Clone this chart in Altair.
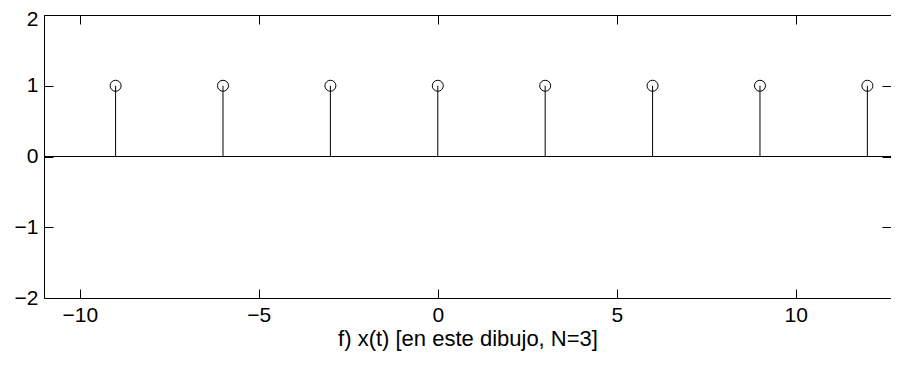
import altair as alt
import pandas as pd

# ---- data ----
T = [-9, -6, -3, 0, 3, 6, 9, 12]
X_VALUES = [1, 1, 1, 1, 1, 1, 1, 1]
X_TICKS = [-10, -5, 0, 5, 10]
Y_TICKS = [-2, -1, 0, 1, 2]
X_DOMAIN = [-11, 12.66]
Y_DOMAIN = [-2, 2]
TITLE = "f) x(t) [en este dibujo, N=3]"

W, H = 847, 283
FONT = "Liberation Sans"
FS_LABEL = 21
FS_TITLE = 22

df = pd.DataFrame({"t": T, "x": X_VALUES, "base": [0] * len(T)})
bl = pd.DataFrame({"xa": [X_DOMAIN[0]], "xb": [X_DOMAIN[1]], "y": [0]})

xs = alt.Scale(domain=X_DOMAIN, nice=False, zero=False)
ys = alt.Scale(domain=Y_DOMAIN, nice=False, zero=False)


def tick_axis(orient, offset, values):
    return alt.Axis(orient=orient, offset=offset, values=values, labels=False,
                    domain=False, ticks=True, tickSize=9, tickColor="black",
                    tickWidth=1, grid=False, title=None)


x_label_axis = alt.Axis(orient="bottom", values=X_TICKS, ticks=False, tickSize=0,
                        domain=False, grid=False, labelFont=FONT, labelFontSize=FS_LABEL,
                        labelColor="black", labelPadding=6, title=TITLE,
                        titleFont=FONT, titleFontSize=FS_TITLE, titleFontWeight="normal",
                        titleColor="black", titlePadding=3)
y_label_axis = alt.Axis(orient="left", values=Y_TICKS, ticks=False, tickSize=0,
                        domain=False, grid=False, labelFont=FONT, labelFontSize=FS_LABEL,
                        labelColor="black", labelPadding=6, title=None,
                        labelOffset={"condition": {"test": "datum.value == 2", "value": 4},
                                     "value": 0})

baseline = alt.Chart(bl).mark_rule(color="black", strokeWidth=1).encode(
    x=alt.X("xa:Q", scale=xs, axis=tick_axis("bottom", -H, X_TICKS)),
    x2="xb:Q",
    y=alt.Y("y:Q", scale=ys, axis=tick_axis("left", -W, Y_TICKS)),
)

stems = alt.Chart(df).mark_rule(color="black", strokeWidth=1).encode(
    x=alt.X("t:Q", scale=xs, axis=x_label_axis),
    y=alt.Y("base:Q", scale=ys, axis=y_label_axis),
    y2="x:Q",
)

points = alt.Chart(df).mark_point(shape="circle", filled=False, color="black",
                                  size=121, strokeWidth=1, opacity=1).encode(
    x=alt.X("t:Q", scale=xs, axis=tick_axis("top", -H, X_TICKS)),
    y=alt.Y("x:Q", scale=ys, axis=tick_axis("right", -W, Y_TICKS)),
)

chart = alt.layer(baseline, stems, points).resolve_axis(
    x="independent", y="independent"
).resolve_scale(x="shared", y="shared").properties(
    width=W, height=H,
    padding={"left": 36, "top": 7, "right": 0, "bottom": 54},
    autosize=alt.AutoSizeParams(type="none"),
    background="white",
).configure_view(stroke="black", strokeWidth=1)

chart.save("out.html", embed_options={"renderer": "svg", "actions": False})
